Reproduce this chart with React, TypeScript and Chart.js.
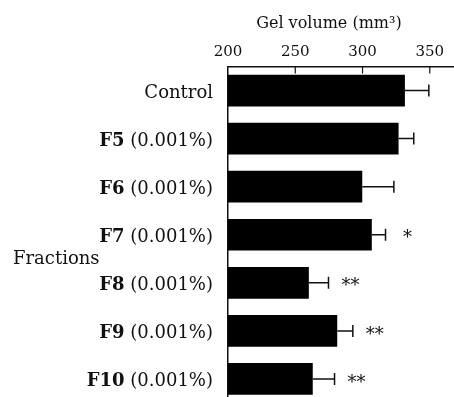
import React, { useEffect, useRef } from "react";
import { Chart, registerables } from "chart.js";

Chart.register(...registerables);

// ---- data ----
const categories = ["Control", "F5", "F6", "F7", "F8", "F9", "F10"];
const concentrations = ["", "(0.001%)", "(0.001%)", "(0.001%)", "(0.001%)", "(0.001%)", "(0.001%)"];
const means = [331.5, 326.8, 299.8, 306.9, 260.1, 281.2, 263.0];
const errors = [17.8, 11.3, 23.5, 10.2, 14.6, 11.6, 16.2];
const significance = ["", "", "", "*", "**", "**", "**"];
const xTicks = [200, 250, 300, 350];
const xMin = 200;
const xMax = 368;
const axisTitle = "Gel volume (mm\u00B3)";
const groupLabel = "Fractions";

const FONT = "'DejaVu Serif', serif";
const INK = "#111";

const overlay = {
  id: "overlay",
  afterDatasetsDraw(chart: any) {
    const ctx = chart.ctx as CanvasRenderingContext2D;
    const xs = chart.scales.x;
    const ys = chart.scales.y;
    const area = chart.chartArea;
    ctx.save();

    // error bars + significance marks
    ctx.strokeStyle = INK;
    ctx.fillStyle = INK;
    ctx.lineWidth = 1.5;
    means.forEach((m, i) => {
      const py = ys.getPixelForValue(i);
      const x0 = xs.getPixelForValue(m);
      const x1 = xs.getPixelForValue(m + errors[i]);
      ctx.beginPath();
      ctx.moveTo(x0, py);
      ctx.lineTo(x1, py);
      ctx.moveTo(x1, py - 6);
      ctx.lineTo(x1, py + 6);
      ctx.stroke();
      if (significance[i]) {
        ctx.font = `18px ${FONT}`;
        ctx.textAlign = "center";
        ctx.textBaseline = "middle";
        ctx.fillText(significance[i], x1 + 22, py + 4);
      }
    });

    // inward tick marks on top axis
    ctx.lineWidth = 1.2;
    xTicks.forEach((v) => {
      if (v === xMin) return;
      const px = xs.getPixelForValue(v);
      ctx.beginPath();
      ctx.moveTo(px, area.top);
      ctx.lineTo(px, area.top + 7);
      ctx.stroke();
    });

    // category labels (bold fraction id + regular concentration)
    const labelRight = area.left - 15;
    ctx.textBaseline = "alphabetic";
    ctx.textAlign = "right";
    categories.forEach((c, i) => {
      const py = ys.getPixelForValue(i) + 7;
      const conc = concentrations[i];
      if (conc) {
        ctx.font = `18px ${FONT}`;
        const text = " " + conc;
        const w = ctx.measureText(text).width;
        ctx.fillText(text, labelRight, py);
        ctx.font = `bold 18px ${FONT}`;
        ctx.fillText(c, labelRight - w, py);
      } else {
        ctx.font = `18px ${FONT}`;
        ctx.fillText(c, labelRight, py);
      }
    });

    // group label
    ctx.textAlign = "left";
    ctx.font = `18px ${FONT}`;
    const gy = (ys.getPixelForValue(3) + ys.getPixelForValue(4)) / 2 + 5;
    ctx.fillText(groupLabel, 13, gy);

    // axis title centred over the tick range
    ctx.textAlign = "center";
    ctx.font = `16px ${FONT}`;
    const tx = xs.getPixelForValue((xTicks[0] + xTicks[xTicks.length - 1]) / 2);
    ctx.fillText(axisTitle, tx, area.top - 39);

    ctx.restore();
  },
};

export default function App() {
  const ref = useRef<HTMLCanvasElement | null>(null);

  useEffect(() => {
    if (!ref.current) return;
    const chart = new Chart(ref.current, {
      type: "bar",
      data: {
        labels: categories,
        datasets: [
          {
            data: means,
            backgroundColor: "#000",
            borderWidth: 0,
            categoryPercentage: 1,
            barPercentage: 0.66,
          },
        ],
      },
      options: {
        indexAxis: "y",
        responsive: false,
        animation: false,
        devicePixelRatio: 1,
        layout: { padding: { left: 228, right: 0, top: 38.5, bottom: 3 } },
        plugins: { legend: { display: false }, tooltip: { enabled: false } },
        scales: {
          x: {
            type: "linear",
            position: "top",
            min: xMin,
            max: xMax,
            afterBuildTicks: (s: any) => {
              s.ticks = xTicks.map((v) => ({ value: v }));
            },
            grid: { display: false, drawTicks: false },
            border: { display: true, color: INK, width: 1.5 },
            ticks: { font: { family: FONT, size: 15 }, color: INK, padding: 5 },
          },
          y: {
            type: "category",
            grid: { display: false, drawTicks: false },
            border: { display: true, color: INK, width: 1.5 },
            ticks: { display: false },
          },
        },
      },
      plugins: [overlay],
    } as any);
    return () => chart.destroy();
  }, []);

  return (
    <div
      style={{
        position: "fixed",
        left: 0,
        top: 0,
        width: 454,
        height: 397,
        overflow: "hidden",
        background: "#fff",
      }}
    >
      <canvas ref={ref} width={454} height={406} style={{ display: "block" }} />
    </div>
  );
}
